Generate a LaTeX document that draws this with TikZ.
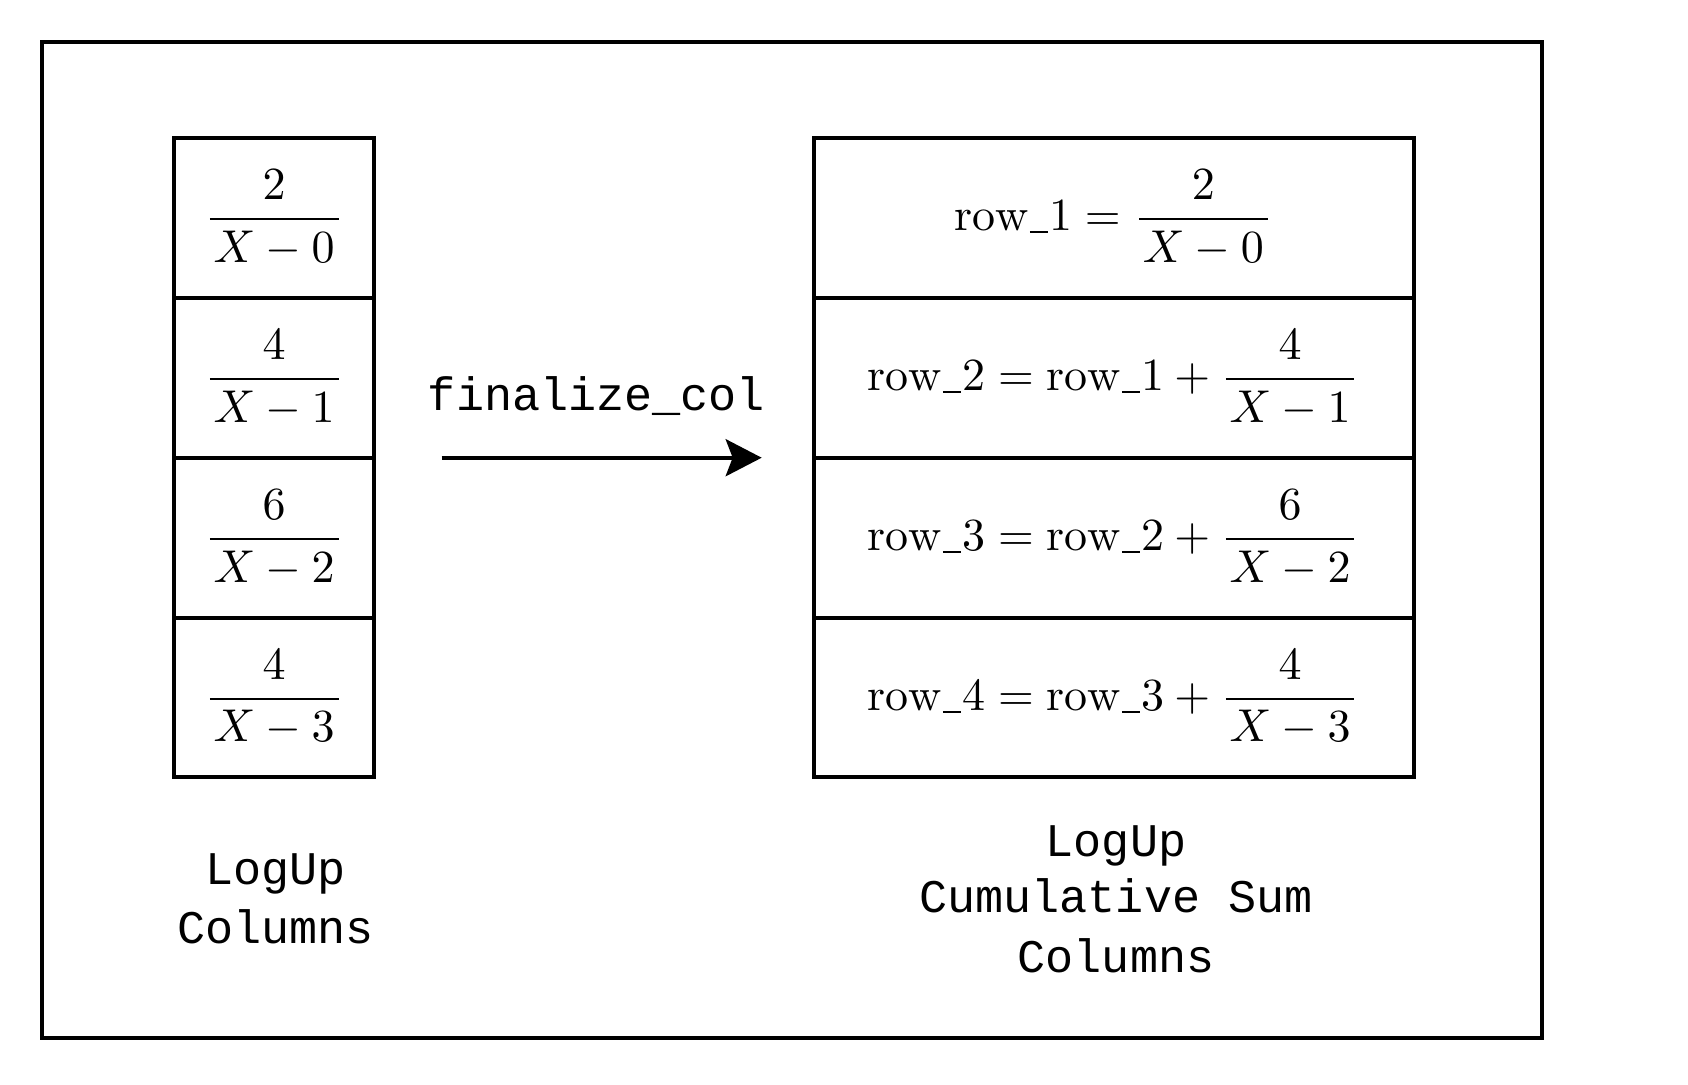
\documentclass[tikz,border=0pt]{standalone}
\usepackage{graphicx}
\usepackage{fontspec}
\setmonofont{Liberation Mono}
\usetikzlibrary{arrows.meta}
\newcommand{\cellmath}[1]{\scalebox{2.3}{\fontsize{10pt}{12pt}\selectfont$\displaystyle #1$}}
\newcommand{\cellfr}[2]{\frac{#1}{\mkern1.5mu #2\mkern1.5mu}}
\newcommand{\us}{\mbox{\kern0.02em\vrule width 0.4em height -0.01em depth 0.055em\kern0.02em}}
\newcommand{\rw}[1]{\mathrm{row}\us\mathrm{#1}}
\begin{document}
\begin{tikzpicture}[x=0.5pt,y=-0.5pt,
  frame/.style={draw=black,line width=2pt},
  lcell/.style={draw=black,line width=2pt,rectangle,inner sep=0pt,
    minimum width=99.85pt,minimum height=79.9pt},
  rcell/.style={lcell,minimum width=299.85pt},
  mono/.style={font=\fontsize{23.4pt}{29.5pt}\ttfamily,align=center,inner sep=0pt},
  flow/.style={line width=2pt,-{Stealth[length=18pt,width=18.5pt,inset=3.5pt]}}
]
\useasboundingbox (0,0) rectangle (1688,1084);
\draw[frame] (42.3,42.3) rectangle (1541.7,1038);

% left column
\node[lcell] (l1) at (274.2,218.2) {\cellmath{\cellfr{2}{X-0}}};
\node[lcell] (l2) at (274.2,378.0) {\cellmath{\cellfr{4}{X-1}}};
\node[lcell] (l3) at (274.2,537.8) {\cellmath{\cellfr{6}{X-2}}};
\node[lcell] (l4) at (274.2,697.5) {\cellmath{\cellfr{4}{X-3}}};

% right column
\node[rcell] (r1) at (1113.9,218.2) {\cellmath{\rw{1}=\cellfr{2}{X-0}}};
\node[rcell] (r2) at (1113.9,378.0) {\cellmath{\rw{2}=\rw{1}+\cellfr{4}{X-1}}};
\node[rcell] (r3) at (1113.9,537.8) {\cellmath{\rw{3}=\rw{2}+\cellfr{6}{X-2}}};
\node[rcell] (r4) at (1113.9,697.5) {\cellmath{\rw{4}=\rw{3}+\cellfr{4}{X-3}}};

% arrow
\coordinate (as) at (441.7,457.7);
\coordinate (ae) at (761.7,457.7);
\draw[flow] (as) -- (ae);
\node[mono,anchor=base] (fc) at (596.5,410) {finalize\_col};

% labels (anchor = baseline of last line)
\node[mono,anchor=base] (ll) at (275.5,943) {LogUp\\Columns};
\node[mono,anchor=base] (rl) at (1116,972) {LogUp\\[-1.5pt]Cumulative Sum\\[0.5pt]Columns};
\end{tikzpicture}
\end{document}
